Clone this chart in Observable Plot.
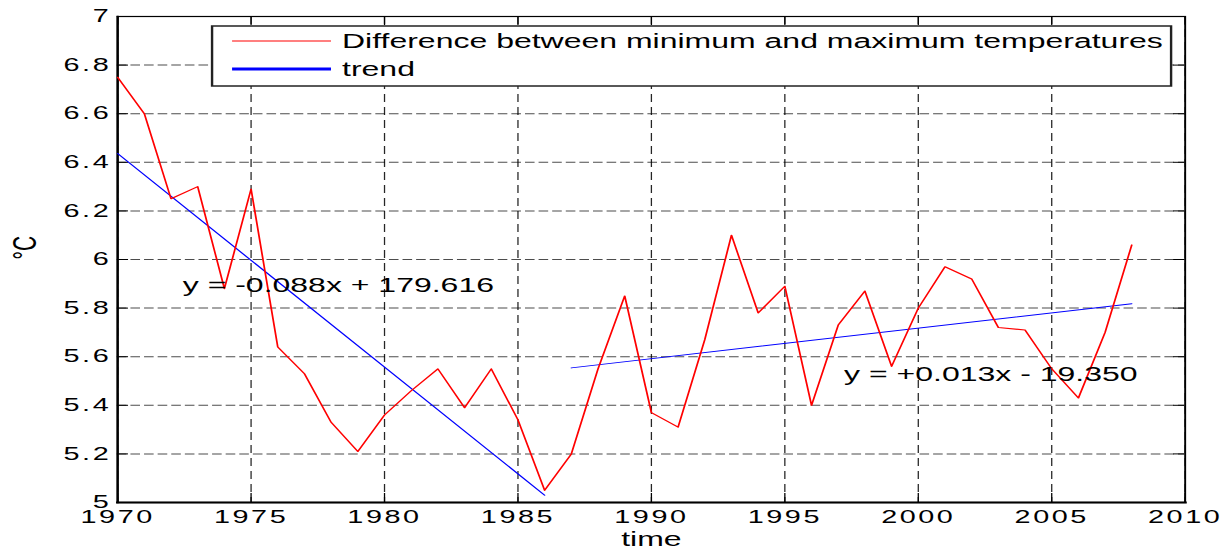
<!DOCTYPE html>
<html><head><meta charset="utf-8">
<script src="https://cdn.jsdelivr.net/npm/d3@7"></script>
<script src="https://cdn.jsdelivr.net/npm/@observablehq/plot@0.6"></script>
<style>
html,body{margin:0;padding:0;background:#fff;overflow:hidden}
#chart{width:1226px;height:552px;overflow:hidden}
#chart svg{transform-origin:0 0;transform:scaleX(1.6005);display:block}
</style></head><body><div id="chart"></div>
<script>
const years = [1970,1971,1972,1973,1974,1975,1976,1977,1978,1979,1980,1981,1982,1983,1984,1985,1986,1987,1988,1989,1990,1991,1992,1993,1994,1995,1996,1997,1998,1999,2000,2001,2002,2003,2004,2005,2006,2007,2008];
const diffValues = [6.75,6.60,6.25,6.30,5.88,6.29,5.64,5.53,5.33,5.21,5.36,5.46,5.55,5.39,5.55,5.34,5.05,5.20,5.55,5.85,5.37,5.31,5.67,6.10,5.78,5.89,5.40,5.73,5.87,5.56,5.80,5.97,5.92,5.72,5.71,5.55,5.43,5.70,6.06];
const trend1Years = [1970, 1986];
const trend1Values = [6.436, 5.03];
const trend2Years = [1987, 2008];
const trend2Values = [5.554, 5.818];
const xTicks = [1970,1975,1980,1985,1990,1995,2000,2005,2010];
const yTicks = [5,5.2,5.4,5.6,5.8,6,6.2,6.4,6.6,6.8,7];
const yTickLabels = ["5","5.2","5.4","5.6","5.8","6","6.2","6.4","6.6","6.8","7"];
const annoText = ["y = -0.088x + 179.616", "y = +0.013x - 19.350"];
const annoYear = [1972.44, 1997.22];
const annoValue = [5.894, 5.525];
const legendLabels = ["Difference between minimum and maximum temperatures", "trend"];
const seriesColors = ["#ff0000", "#0000ff"];

const data = years.map((y, i) => ({year: y, value: diffValues[i]}));
const t1 = trend1Years.map((y, i) => ({year: y, value: trend1Values[i]}));
const t2 = trend2Years.map((y, i) => ({year: y, value: trend2Values[i]}));
const annos = annoText.map((t, i) => ({text: t, year: annoYear[i], value: annoValue[i]}));

const W = 766, H = 552, mL = 73, mR = 26, mT = 16, mB = 50;
const innerH = H - mT - mB, innerW = W - mL - mR;
const font = "'Liberation Sans', Arial, Helvetica, sans-serif";

const svg = Plot.plot({
  width: W, height: H,
  marginLeft: mL, marginRight: mR, marginTop: mT, marginBottom: mB,
  style: {fontFamily: font, fontSize: "17px", color: "#000", background: "#fff"},
  x: {domain: [1970, 2010]},
  y: {domain: [5, 7]},
  marks: [
    Plot.gridX(xTicks, {stroke: "#000", strokeOpacity: 0.85, strokeWidth: 0.8, strokeDasharray: "8,5"}),
    Plot.gridY(yTicks, {stroke: "#000", strokeOpacity: 0.7, strokeDasharray: "6,2.5"}),
    Plot.tickX(xTicks, {x: d => d, insetTop: innerH - 9, stroke: "#000", strokeWidth: 0.8}),
    Plot.tickX(xTicks, {x: d => d, insetBottom: innerH - 9, stroke: "#000", strokeWidth: 0.8}),
    Plot.tickY(yTicks, {y: d => d, insetRight: innerW - 7, stroke: "#000"}),
    Plot.tickY(yTicks, {y: d => d, insetLeft: innerW - 7, stroke: "#000"}),
    Plot.frame({stroke: "#000", strokeWidth: 1.2}),
    Plot.frame({anchor: "bottom", stroke: "#000", strokeWidth: 2}),
    Plot.frame({anchor: "left", stroke: "#000", strokeWidth: 1.4}),
    Plot.axisX(xTicks, {tickSize: 0, tickPadding: 8, fontSize: 18, label: null, tickFormat: d => String(d)}),
    Plot.axisY(yTicks, {tickSize: 0, tickPadding: 4, fontSize: 18, label: null, tickFormat: d => yTickLabels[yTicks.indexOf(d)]}),
    Plot.line(t1, {x: "year", y: "value", stroke: seriesColors[1], strokeWidth: 1}),
    Plot.line(t2, {x: "year", y: "value", stroke: seriesColors[1], strokeWidth: 1}),
    Plot.line(data, {x: "year", y: "value", stroke: seriesColors[0], strokeWidth: 1.1}),
    Plot.text(annos, {x: "year", y: "value", text: "text", textAnchor: "start", fontSize: 20, fill: "#000"}),
    Plot.text(["time"], {frameAnchor: "bottom", dy: 43, fontSize: 20, fill: "#000"}),
    Plot.text(["°C"], {frameAnchor: "left", dx: -58, rotate: -90, fontSize: 21, fill: "#000"})
  ]
});

const s = d3.select(svg);
// widen tick-label glyph spacing a little, like the stretched original
s.selectAll('g[aria-label="x-axis tick label"] text, g[aria-label="y-axis tick label"] text')
  .style("letter-spacing", "1.6px");

// legend box (MATLAB style, inside the axes)
const lg = s.append("g").attr("font-family", font).attr("text-anchor", "start");
const bx = 132.5, by = 26, bw = 599.2, bh = 60;
lg.append("rect").attr("x", bx).attr("y", by).attr("width", bw).attr("height", bh)
  .attr("fill", "#fff").attr("stroke", "#222").attr("stroke-width", 1.5);
const rowsY = [41, 69];
const widths = [1.1, 3];
legendLabels.forEach((lab, i) => {
  lg.append("line").attr("x1", 145).attr("x2", 206.8).attr("y1", rowsY[i]).attr("y2", rowsY[i])
    .attr("stroke", seriesColors[i]).attr("stroke-width", widths[i]);
  lg.append("text").attr("x", 213.7).attr("y", rowsY[i]).attr("dy", "0.35em")
    .attr("font-size", 20).attr("fill", "#000").attr("text-anchor", "start").text(lab);
});

document.getElementById("chart").appendChild(svg);
</script>
</body></html>
